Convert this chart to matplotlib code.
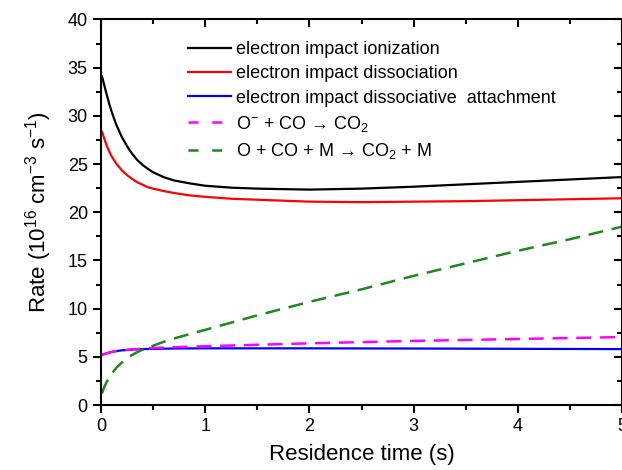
import matplotlib
matplotlib.use('Agg')
import matplotlib.pyplot as plt
from matplotlib.lines import Line2D
from matplotlib.ticker import MultipleLocator

plt.rcParams['font.family'] = ['Liberation Sans', 'DejaVu Sans']
plt.rcParams['mathtext.fontset'] = 'custom'
plt.rcParams['mathtext.rm'] = 'Liberation Sans'
plt.rcParams['mathtext.it'] = 'Liberation Sans'

# residence time (s)
t_main = [0.01, 0.025, 0.05, 0.075, 0.1, 0.125, 0.15, 0.2, 0.25, 0.3, 0.35,
          0.4, 0.45, 0.5, 0.6, 0.7, 0.85, 1.0, 1.25, 1.5, 2.0, 2.5, 3.0,
          3.5, 4.0, 4.5, 5.0]
ionization = [34.1, 33.45, 32.4, 31.4, 30.5, 29.72, 29.0, 27.8, 26.85, 26.05, 25.4,
              24.9, 24.5, 24.15, 23.65, 23.3, 23.0, 22.75, 22.55, 22.45, 22.35,
              22.45, 22.65, 22.9, 23.15, 23.4, 23.65]
dissociation = [28.35, 27.85, 27.05, 26.4, 25.85, 25.4, 25.0, 24.35, 23.85, 23.45, 23.1,
                22.85, 22.6, 22.45, 22.2, 22.0, 21.75, 21.6, 21.4, 21.3, 21.1,
                21.05, 21.1, 21.15, 21.25, 21.35, 21.45]
o_co_m = [1.2, 1.7, 2.3, 2.8, 3.2, 3.55, 3.9, 4.4, 4.85, 5.2, 5.5,
          5.75, 5.95, 6.15, 6.55, 6.9, 7.35, 7.8, 8.55, 9.3, 10.7,
          12.0, 13.4, 14.7, 16.0, 17.2, 18.5]

t_low = [0.01, 0.05, 0.1, 0.15, 0.2, 0.3, 0.4, 0.5, 0.7, 1.0,
         1.5, 2.0, 3.0, 4.0, 5.0]
attachment = [5.2, 5.35, 5.5, 5.6, 5.67, 5.75, 5.8, 5.83, 5.86, 5.88,
              5.88, 5.88, 5.86, 5.83, 5.8]
o_minus_co = [5.2, 5.35, 5.5, 5.6, 5.67, 5.77, 5.85, 5.92, 6.0, 6.1,
              6.25, 6.4, 6.65, 6.85, 7.05]

labels = ['electron impact ionization',
          'electron impact dissociation',
          'electron impact dissociative  attachment',
          r'O$^{\mathregular{-}}$ + CO → CO$_\mathregular{2}$',
          r'O + CO + M → CO$_\mathregular{2}$ + M']
colors = ['black', 'red', 'blue', 'magenta', '#1a8a1a']

fig = plt.figure(figsize=(6.22, 4.70), dpi=100)
ax = fig.add_axes([101/622, 1 - 405/470, 521/622, 385.5/470])

dash = (6, 3.5)
ax.plot(t_main, ionization, color=colors[0], lw=1.6)
ax.plot(t_main, dissociation, color=colors[1], lw=1.6)
ax.plot(t_low, attachment, color=colors[2], lw=1.6)
ax.plot(t_low, o_minus_co, color=colors[3], lw=1.8, dashes=dash)
ax.plot(t_main, o_co_m, color=colors[4], lw=1.8, dashes=dash)

ax.set_xlim(0, 5)
ax.set_ylim(0, 40)
ax.xaxis.set_major_locator(MultipleLocator(1))
ax.xaxis.set_minor_locator(MultipleLocator(0.5))
ax.yaxis.set_major_locator(MultipleLocator(5))
ax.yaxis.set_minor_locator(MultipleLocator(2.5))

for s in ax.spines.values():
    s.set_linewidth(1.5)
ax.tick_params(which='both', direction='out', width=1.5, labelsize=13)
ax.tick_params(which='major', length=6)
ax.tick_params(which='minor', length=3.5)
ax.tick_params(which='both', top=True, right=True)
# top/right ticks point inward
for tl in ax.xaxis.get_ticklines(minor=False)[1::2] + ax.xaxis.get_ticklines(minor=True)[1::2]:
    tl.set_marker(3)
for tl in ax.yaxis.get_ticklines(minor=False)[1::2] + ax.yaxis.get_ticklines(minor=True)[1::2]:
    tl.set_marker(0)

ax.set_xlabel('Residence time (s)', fontsize=16, labelpad=6)
ax.set_ylabel(r'Rate (10$^{\mathregular{16}}$ cm$^{\mathregular{-3}}$ s$^{\mathregular{-1}}$)',
              fontsize=16, labelpad=10)

# legend handles (dashed ones show two short dashes like the original)
handles = [Line2D([], [], color=colors[0], lw=1.6),
           Line2D([], [], color=colors[1], lw=1.6),
           Line2D([], [], color=colors[2], lw=1.6),
           Line2D([], [], color=colors[3], lw=1.8, dashes=(4, 5.5)),
           Line2D([], [], color=colors[4], lw=1.8, dashes=(4, 5.5))]
ax.legend(handles, labels, loc='upper left', bbox_to_anchor=(0.167, 0.944),
          frameon=False, fontsize=13, handlelength=2.4, handletextpad=0.25,
          borderpad=0, borderaxespad=0, labelspacing=0.4)

fig.savefig('out.png', dpi=100, facecolor='white')
